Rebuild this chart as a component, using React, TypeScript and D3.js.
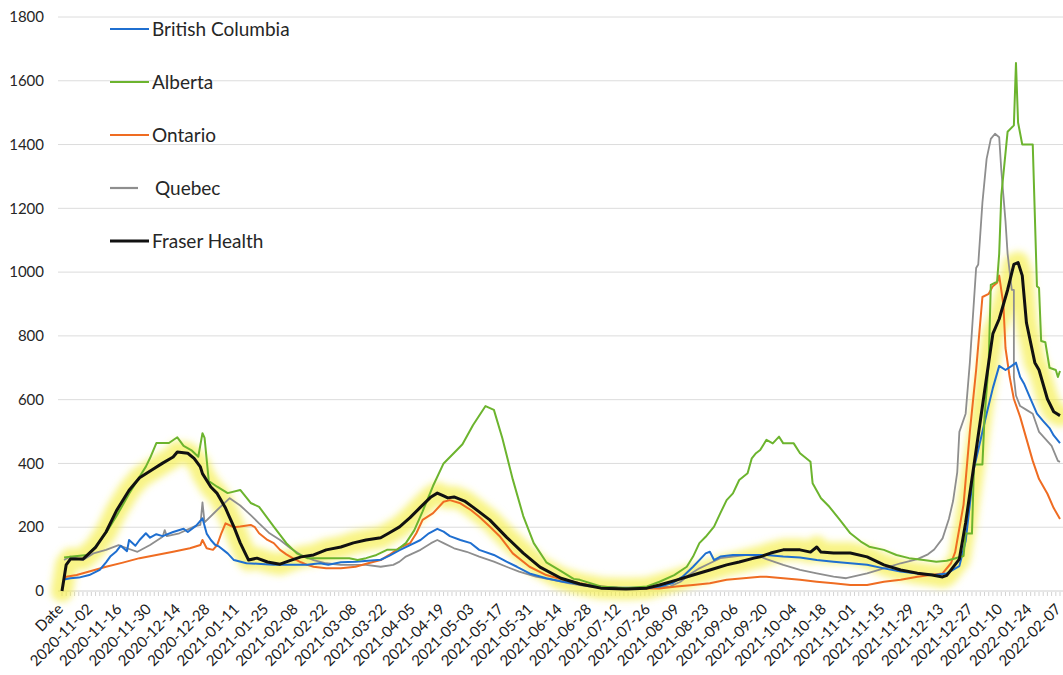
import * as d3 from 'd3'

// category labels shown every 14 days; "Date" is the header row picked up as the first category
const xLabels = [
  'Date', '2020-11-02', '2020-11-16', '2020-11-30', '2020-12-14', '2020-12-28',
  '2021-01-11', '2021-01-25', '2021-02-08', '2021-02-22', '2021-03-08', '2021-03-22',
  '2021-04-05', '2021-04-19', '2021-05-03', '2021-05-17', '2021-05-31', '2021-06-14',
  '2021-06-28', '2021-07-12', '2021-07-26', '2021-08-09', '2021-08-23', '2021-09-06',
  '2021-09-20', '2021-10-04', '2021-10-18', '2021-11-01', '2021-11-15', '2021-11-29',
  '2021-12-13', '2021-12-27', '2022-01-10', '2022-01-24', '2022-02-07'
]
const yTicks = [0, 200, 400, 600, 800, 1000, 1200, 1400, 1600, 1800]

// [day from the "Date" category, value]
const britishColumbia: [number, number][] = [
  [1, 36], [4, 40], [8, 42], [13, 50], [18, 66], [21, 90], [23, 108], [26, 125], [28, 142], [31, 125],
  [32, 160], [35, 142], [37, 160], [40, 181], [42, 167], [45, 178], [48, 172], [53, 185], [58, 195],
  [60, 185], [64, 205], [67, 228], [69, 180], [71, 160], [73, 145], [75, 139], [79, 118], [82, 97],
  [88, 87], [95, 85], [101, 82], [110, 82], [117, 82], [123, 87], [127, 82], [133, 90], [140, 92],
  [146, 95], [152, 98], [156, 110], [161, 128], [166, 144], [171, 160], [175, 181], [179, 195],
  [182, 186], [185, 172], [190, 160], [195, 150], [199, 129], [206, 113], [212, 92], [217, 76],
  [223, 55], [231, 40], [239, 29], [247, 22], [255, 14], [265, 10], [280, 10], [285, 14], [291, 24],
  [296, 45], [301, 76], [304, 97], [307, 118], [309, 123], [311, 97], [314, 108], [320, 113],
  [327, 113], [333, 113], [336, 113], [344, 108], [352, 105], [360, 97], [368, 92], [376, 87],
  [384, 82], [392, 71], [400, 61], [408, 55], [416, 50], [422, 55], [428, 78], [431, 157], [435, 386],
  [441, 556], [444, 637], [447, 706], [450, 693], [453, 706], [455, 716], [457, 671], [459, 648],
  [462, 602], [465, 556], [468, 533], [471, 511], [473, 488], [476, 464]
]
const alberta: [number, number][] = [
  [1, 105], [5, 108], [12, 113], [16, 139], [21, 182], [26, 235], [32, 305], [37, 358], [40, 390],
  [42, 417], [45, 464], [51, 464], [55, 482], [58, 455], [62, 440], [65, 421], [67, 495], [68, 480],
  [70, 345], [74, 327], [79, 307], [85, 317], [90, 276], [94, 264], [101, 202], [107, 150], [112, 118],
  [117, 103], [122, 103], [129, 103], [137, 103], [141, 97], [145, 103], [150, 113], [155, 129],
  [160, 130], [164, 150], [168, 190], [172, 250], [177, 330], [182, 400], [188, 440], [191, 460],
  [196, 520], [202, 580], [206, 568], [210, 480], [215, 350], [220, 235], [225, 150], [231, 90],
  [238, 62], [244, 38], [247, 35], [257, 14], [269, 9], [279, 14], [285, 29], [292, 50], [298, 76],
  [301, 108], [304, 150], [307, 170], [311, 202], [314, 244], [317, 285], [320, 306], [323, 348],
  [327, 369], [329, 416], [331, 432], [333, 442], [336, 474], [339, 463], [342, 484], [344, 463],
  [349, 463], [352, 432], [357, 405], [358, 338], [362, 291], [366, 264], [371, 223], [376, 181],
  [381, 155], [385, 139], [392, 129], [398, 113], [404, 103], [411, 97], [417, 92], [422, 95],
  [430, 110], [431, 180], [434, 180], [435, 397], [439, 397], [440, 545], [442, 716], [443, 960],
  [446, 970], [447, 1058], [448, 1240], [451, 1440], [454, 1460], [455, 1656], [456, 1469],
  [458, 1400], [463, 1400], [465, 956], [466, 950], [467, 784], [469, 780], [471, 700], [474, 693],
  [475, 671], [476, 690]
]
const ontario: [number, number][] = [
  [1, 36], [2, 45], [7, 50], [13, 61], [21, 76], [29, 89], [37, 103], [45, 113], [53, 123], [61, 134],
  [66, 144], [67, 160], [69, 134], [72, 129], [74, 144], [76, 181], [78, 212], [82, 200], [85, 202],
  [90, 207], [92, 200], [94, 181], [98, 160], [101, 150], [104, 129], [107, 115], [110, 103], [114, 90],
  [117, 82], [120, 76], [126, 71], [133, 71], [140, 76], [146, 87], [152, 97], [156, 113], [161, 135],
  [166, 150], [169, 181], [172, 223], [177, 244], [182, 280], [185, 285], [190, 275], [195, 254],
  [199, 233], [204, 202], [209, 170], [215, 118], [223, 76], [231, 50], [239, 35], [247, 24], [255, 15],
  [265, 10], [275, 8], [285, 8], [293, 14], [301, 19], [309, 24], [317, 35], [325, 40], [333, 45],
  [336, 45], [344, 40], [352, 35], [360, 29], [368, 24], [376, 19], [384, 19], [392, 29], [400, 35],
  [408, 45], [414, 50], [420, 55], [424, 87], [426, 122], [430, 271], [433, 499], [436, 693],
  [439, 922], [442, 932], [444, 956], [446, 967], [447, 989], [449, 898], [450, 762], [452, 671],
  [454, 602], [457, 546], [460, 477], [463, 408], [466, 351], [470, 305], [473, 260], [476, 226]
]
const quebec: [number, number][] = [
  [1, 97], [4, 108], [10, 97], [15, 118], [21, 129], [27, 144], [31, 134], [36, 123], [42, 144],
  [48, 170], [49, 191], [50, 172], [56, 181], [63, 202], [66, 207], [67, 278], [68, 215], [74, 254],
  [80, 291], [85, 268], [90, 238], [94, 212], [99, 181], [104, 160], [109, 134], [114, 113], [120, 97],
  [126, 87], [133, 82], [139, 82], [145, 82], [152, 76], [158, 82], [161, 92], [164, 108], [171, 129],
  [176, 150], [179, 160], [182, 150], [187, 134], [193, 123], [199, 108], [206, 92], [212, 76],
  [218, 61], [226, 45], [234, 35], [242, 24], [250, 15], [260, 9], [275, 9], [290, 14], [295, 29],
  [299, 50], [304, 71], [309, 87], [314, 103], [320, 108], [327, 113], [333, 108], [336, 100],
  [344, 82], [352, 66], [360, 55], [368, 45], [374, 40], [384, 55], [392, 71], [400, 87], [408, 100],
  [413, 115], [416, 130], [420, 165], [423, 226], [425, 282], [427, 373], [428, 499], [431, 556],
  [433, 716], [436, 1013], [437, 1024], [439, 1218], [441, 1355], [443, 1418], [445, 1434],
  [447, 1423], [448, 1320], [450, 1160], [451, 1058], [453, 944], [454, 944], [454, 671], [455, 613],
  [457, 580], [460, 568], [463, 556], [466, 499], [469, 477], [472, 455], [475, 408], [476, 405]
]
const fraserHealth: [number, number][] = [
  [0, 0], [2, 82], [4, 100], [10, 100], [16, 137], [21, 185], [26, 252], [32, 316], [37, 355],
  [43, 380], [48, 401], [53, 420], [55, 436], [60, 432], [63, 416], [66, 389], [67, 368], [71, 326],
  [74, 306], [78, 260], [80, 230], [82, 201], [85, 151], [88, 110], [89, 97], [93, 103], [98, 91],
  [104, 84], [109, 96], [114, 107], [120, 113], [126, 129], [133, 138], [139, 151], [145, 160],
  [152, 167], [156, 182], [161, 201], [166, 230], [171, 263], [176, 295], [179, 307], [182, 298],
  [184, 292], [187, 295], [192, 282], [196, 263], [204, 223], [212, 169], [220, 119], [228, 75],
  [238, 40], [247, 22], [257, 9], [269, 6], [279, 9], [285, 19], [293, 34], [301, 50], [309, 66],
  [317, 82], [323, 91], [330, 103], [333, 107], [338, 119], [344, 129], [352, 129], [357, 122],
  [360, 138], [362, 122], [368, 119], [376, 119], [384, 107], [392, 82], [400, 66], [408, 56],
  [415, 50], [420, 44], [422, 49], [428, 100], [431, 214], [436, 442], [441, 671], [444, 807],
  [447, 853], [451, 944], [454, 1024], [456, 1030], [458, 989], [460, 841], [464, 716], [466, 693],
  [470, 602], [473, 562], [476, 550]
]

const WIDTH = 1063
const HEIGHT = 675
const FONT = 'Lato, "Open Sans", sans-serif'

const legendItems = [
  { name: 'British Columbia', color: '#1f6fd0' },
  { name: 'Alberta', color: '#6cb42e' },
  { name: 'Ontario', color: '#ef6c22' },
  { name: 'Quebec', color: '#8e8e8e' },
  { name: 'Fraser Health', color: '#111111' }
]

export default function App() {
  const x = d3.scaleLinear().domain([0, (xLabels.length - 1) * 14]).range([62, 1060])
  const y = d3.scaleLinear().domain([0, 1800]).range([591, 17])

  const line = d3.line<[number, number]>()
    .x(d => x(d[0]))
    .y(d => y(d[1]))

  const minorTicks = d3.range(0, (xLabels.length - 1) * 14 + 1, 2)

  // drawn bottom to top
  const lines = [
    { data: quebec, color: '#8e8e8e', w: 1.8 },
    { data: ontario, color: '#ef6c22', w: 2 },
    { data: britishColumbia, color: '#1f6fd0', w: 2 },
    { data: alberta, color: '#6cb42e', w: 2 },
    { data: fraserHealth, color: '#111111', w: 3 }
  ]

  return (
    <svg
      width={WIDTH}
      height={HEIGHT}
      style={{ position: 'absolute', left: 0, top: 0, background: '#fff' }}
      fontFamily={FONT}
    >
      <defs>
        <filter id="glow" x="-10%" y="-10%" width="120%" height="120%">
          <feGaussianBlur stdDeviation="3.5" />
        </filter>
      </defs>

      {/* grid */}
      {yTicks.slice(1).map(t => (
        <line key={t} x1={58} x2={WIDTH} y1={y(t)} y2={y(t)} stroke="#dcdcdc" strokeWidth={1} />
      ))}
      <line x1={58} x2={WIDTH} y1={y(0)} y2={y(0)} stroke="#d0d0d0" strokeWidth={1} />
      {minorTicks.map(d => (
        <line key={d} x1={x(d)} x2={x(d)} y1={y(0) + 1} y2={y(0) + 5} stroke="#c8c8c8" strokeWidth={0.8} />
      ))}

      {/* y labels */}
      {yTicks.map(t => (
        <text key={t} x={44} y={y(t)} dy="0.35em" textAnchor="end" fontSize={15} fill="#262626">
          {t}
        </text>
      ))}

      {/* x labels */}
      {xLabels.map((lab, i) => {
        const px = x(i * 14) + 2
        const py = 610
        return (
          <text key={lab} x={px} y={py} textAnchor="end" fontSize={15} fill="#1a1a1a"
            transform={`rotate(-45 ${px} ${py})`}>
            {lab}
          </text>
        )
      })}

      {/* highlight under Fraser Health */}
      <path d={line(fraserHealth) || ''} fill="none" stroke="#f3ee3a" strokeWidth={22}
        strokeOpacity={0.62} strokeLinejoin="round" strokeLinecap="round" filter="url(#glow)" />

      {lines.map((s, i) => (
        <path key={i} d={line(s.data) || ''} fill="none" stroke={s.color} strokeWidth={s.w}
          strokeLinejoin="round" />
      ))}

      {/* legend */}
      {legendItems.map((item, i) => {
        const ly = 29 + i * 53
        const isQuebec = item.name === 'Quebec'
        const isFraser = item.name === 'Fraser Health'
        return (
          <g key={item.name}>
            {isFraser && (
              <line x1={108} x2={150} y1={ly} y2={ly} stroke="#f3ee3a" strokeWidth={8}
                strokeOpacity={0.5} filter="url(#glow)" />
            )}
            <line x1={110} x2={isQuebec ? 138 : 149} y1={ly} y2={ly} stroke={item.color}
              strokeWidth={isFraser ? 3 : 2.2} />
            <text x={isQuebec ? 155 : 152} y={ly} dy="0.35em" fontSize={19} fill="#262626">
              {item.name}
            </text>
          </g>
        )
      })}
    </svg>
  )
}
